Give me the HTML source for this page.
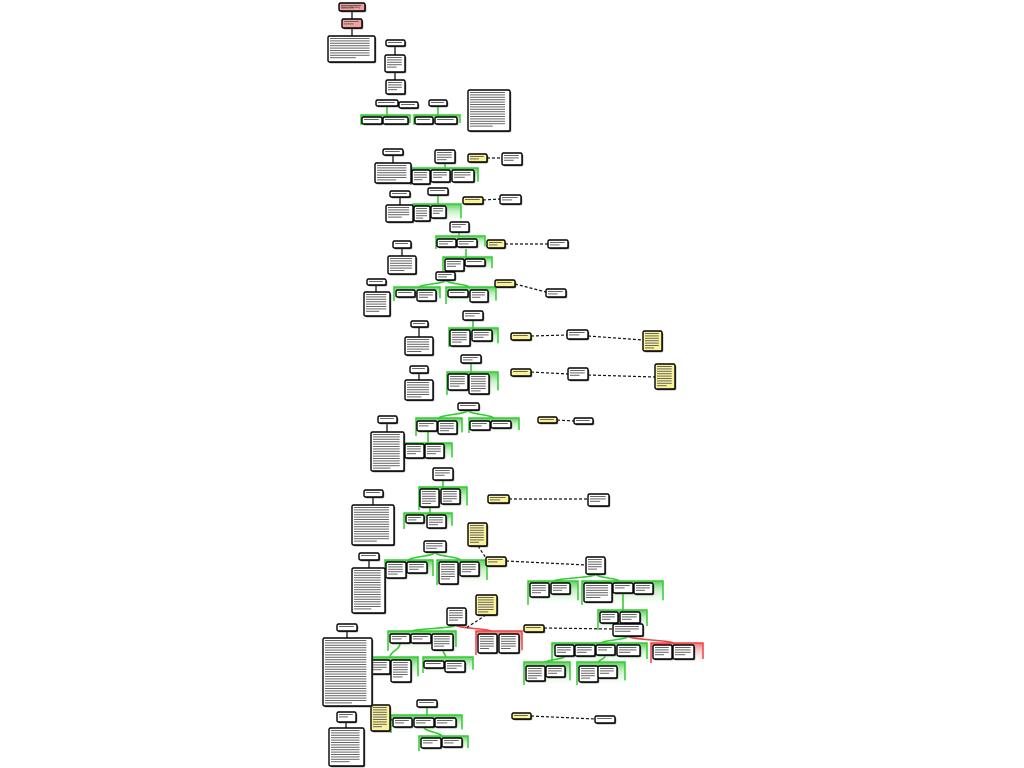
<!DOCTYPE html>
<html><head><meta charset="utf-8"><style>
html,body{margin:0;padding:0;background:#fff;width:1024px;height:768px;overflow:hidden}
svg{display:block}
</style></head><body>
<svg id="s" width="1024" height="768" viewBox="0 0 1024 768" xmlns="http://www.w3.org/2000/svg">
<defs>
<linearGradient id="gg" x1="0" y1="0" x2="0" y2="1"><stop offset="0" stop-color="#5fd05f"/><stop offset="0.35" stop-color="#bfeebf"/><stop offset="1" stop-color="#ffffff" stop-opacity="0.3"/></linearGradient>
<linearGradient id="rg" x1="0" y1="0" x2="0" y2="1"><stop offset="0" stop-color="#ee7a7a"/><stop offset="0.35" stop-color="#f7c6c6"/><stop offset="1" stop-color="#ffffff" stop-opacity="0.3"/></linearGradient>
</defs>
<g id="grp"></g><g id="ln"></g><g id="bx"></g>
<text x="341" y="8" font-family="Liberation Sans, sans-serif" font-size="3" fill="#333">Sprint Backlog</text>
</svg>
<script>
var NS="http://www.w3.org/2000/svg";
function el(p,t,a){var e=document.createElementNS(NS,t);for(var k in a)e.setAttribute(k,a[k]);document.getElementById(p).appendChild(e);return e;}
function box(b,fill){var x=b[0],y=b[1],w=b[2]-b[0],h=b[3]-b[1];
 el('bx','rect',{x:x+1.2,y:y+1.2,width:w,height:h,rx:1.5,fill:'#555'});
 el('bx','rect',{x:x,y:y,width:w,height:h,rx:1.5,fill:fill||'#fff',stroke:'#000','stroke-width':1.4});
 var n=Math.max(1,Math.floor((h-3)/2.4));
 for(var i=0;i<n;i++){var lw=(w-4)*(i==n-1&&n>1?0.6:0.92);el('bx','rect',{x:x+2,y:y+2+i*2.4,width:lw,height:1,fill:'#666'});}
}
function grp(g,red){var x=g[0],y=g[1],w=g[2]-g[0],h=g[3]-g[1],c=red?'#e44':'#3c3';
 el('grp','rect',{x:x,y:y,width:w,height:h,fill:red?'url(#rg)':'url(#gg)'});
 el('grp','path',{d:'M'+x+' '+(y+h)+'V'+y+'H'+(x+w)+'V'+(y+h*0.8),fill:'none',stroke:c,'stroke-width':1.5});
}
function L(a,b,c,d){el('ln','line',{x1:a,y1:b,x2:c,y2:d,stroke:'#000','stroke-width':1.2});}
function D(a,b,c,d){el('ln','line',{x1:a,y1:b,x2:c,y2:d,stroke:'#111','stroke-width':1.2,'stroke-dasharray':'3,2'});}
function C(a,b,c,d,red){var m=(b+d)/2;el('ln','path',{d:'M'+a+' '+b+'C'+a+' '+m+' '+c+' '+m+' '+c+' '+d,fill:'none',stroke:red?'#e44':'#3c3','stroke-width':1.6});}

var G=[[361,115,410,125],[414,115,460,125],[411,168,478,185],[413,204,461,222],[436,236,485,249],[443,257,492,271],[394,287,440,301],[446,287,496,304],[449,328,498,347],[447,372,498,395],[416,418,462,436],[469,418,519,433],[404,443,452,461],[419,487,467,510],[404,513,452,529],[385,560,433,580],[437,560,487,585],[528,581,578,605],[582,581,663,605],[598,610,647,630],[552,643,647,663],[524,662,570,685],[577,662,625,685],[388,631,456,651],[368,657,418,681],[423,657,473,673],[391,715,462,733],[419,736,468,751]];
var R=[[651,643,703,663],[476,631,522,655]];
G.forEach(function(g){grp(g)});R.forEach(function(g){grp(g,1)});

[[352,11,352,19],[352,28,352,36],[395,46,395,55],[395,72,395,80],[393,155,393,163],[400,197,400,205],[402,248,402,256],[376,285,376,292],[419,327,419,337],[419,373,419,380],[387,423,387,432],[373,497,373,505],[369,560,369,568],[347,631,347,638],[346,722,346,728]].forEach(function(l){L.apply(null,l)});
[[387,106,387,117],[438,106,438,116],[445,163,445,169],[438,195,438,205],[459,232,459,237],[466,249,466,258],[446,280,418,288],[446,280,470,288],[473,320,473,329],[471,363,471,373],[468,410,438,419],[468,410,494,419],[428,431,428,443],[443,480,443,488],[430,507,430,514],[435,552,408,561],[435,552,461,561],[596,574,552,582],[596,574,620,582],[623,594,623,611],[628,636,600,644],[400,643,390,658],[443,650,446,658],[427,707,427,716],[424,727,442,737],[565,656,545,663],[605,656,598,663]].forEach(function(l){C.apply(null,l)});
C(628,636,675,644,1);C(456,625,492,632,1);C(456,625,410,632);
[[487,158,502,158],[483,200,500,199],[505,244,548,244],[515,284,546,292],[531,336,567,335],[588,336,643,340],[531,372,568,374],[588,375,655,377],[557,420,574,421],[509,499,588,499],[506,561,586,565],[544,628,613,629],[531,716,595,719],[486,615,466,628],[478,546,486,558],[390,718,393,722]].forEach(function(l){D.apply(null,l)});

[[339,3,365,11],[342,19,362,28]].forEach(function(b){box(b,'#f4a0a0')});
var Y=[[468,154,487,162],[463,197,483,204],[487,240,505,248],[495,280,515,287],[511,333,531,340],[643,331,662,351],[511,369,531,376],[655,364,675,389],[538,417,557,423],[488,495,509,503],[468,523,487,546],[486,557,506,566],[524,625,544,632],[476,595,497,615],[371,705,390,731],[512,713,531,719]];
Y.forEach(function(b){box(b,'#fbf39a')});
var B=[[328,36,375,62],[386,40,405,46],[385,55,405,72],[386,80,405,94],[376,100,398,106],[399,102,418,108],[429,100,447,106],[468,90,510,131],
[362,117,382,124],[383,117,408,124],[415,117,433,124],[435,117,457,124],
[383,149,403,155],[375,163,411,183],[435,150,455,163],[412,170,430,184],[431,170,450,182],[452,170,474,182],[502,153,522,165],
[390,191,410,197],[386,205,413,222],[428,188,448,195],[414,206,430,221],[431,206,446,218],[500,195,521,204],
[450,222,469,232],[437,239,456,247],[457,239,477,247],[548,240,568,248],
[393,241,411,248],[388,256,416,274],[445,259,464,271],[465,259,485,266],
[436,272,455,280],[396,290,415,297],[417,290,436,301],[448,290,468,297],[470,290,488,302],[546,289,566,297],
[367,279,386,285],[364,292,390,316],
[411,321,428,327],[405,337,433,355],[463,311,483,320],[450,330,470,346],[472,330,492,341],[567,330,588,339],
[410,366,428,373],[405,380,433,400],[461,355,481,363],[448,374,468,390],[469,374,489,394],[568,368,588,380],
[458,403,479,410],[417,421,437,431],[438,421,457,434],[470,421,490,430],[491,421,511,428],[574,418,593,424],
[378,416,397,423],[371,432,404,471],[405,444,424,458],[425,444,444,458],
[433,468,453,480],[420,489,439,507],[441,489,460,504],[588,494,609,506],
[364,490,383,497],[352,505,394,545],[406,515,424,523],[427,515,446,528],
[424,541,446,552],[386,562,406,578],[407,562,427,573],[439,562,458,584],[460,562,479,576],[586,557,605,574],
[530,583,549,597],[551,583,570,594],[584,583,612,602],[613,583,633,593],[634,583,653,594],
[600,612,618,623],[620,612,640,623],[613,624,643,636],
[555,645,574,656],[575,645,595,656],[596,645,615,655],[617,645,640,656],[653,645,672,659],[673,645,694,659],
[526,666,545,681],[546,666,565,677],[579,666,598,682],[598,666,617,678],
[359,553,379,560],[352,568,385,613],
[447,608,466,625],[390,634,410,643],[411,634,431,643],[432,634,453,650],[478,634,497,653],[499,634,519,653],
[370,660,390,674],[391,660,411,682],[424,661,444,668],[445,661,465,672],
[337,624,357,631],[323,638,372,706],[337,712,356,722],[329,728,364,766],
[417,700,437,707],[393,718,412,727],[414,718,434,727],[435,718,456,727],[421,738,441,748],[442,738,462,747],[595,716,615,723]];
B.forEach(function(b){box(b)});
</script>
</body></html>
